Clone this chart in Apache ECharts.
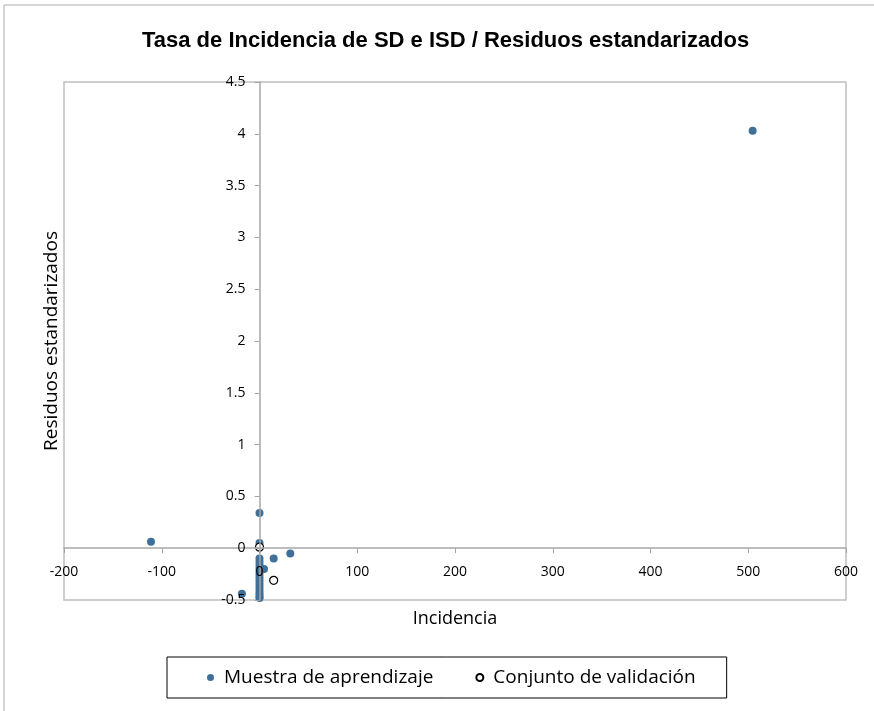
<!DOCTYPE html>
<html>
<head>
<meta charset="utf-8">
<script src="https://cdn.jsdelivr.net/npm/echarts@6/dist/echarts.min.js"></script>
<style>html,body{margin:0;padding:0;background:#fff;}#c{width:874px;height:711px;}</style>
</head>
<body>
<div id="c"></div>
<script>
var title = 'Tasa de Incidencia de SD e ISD / Residuos estandarizados';
var xName = 'Incidencia';
var yName = 'Residuos estandarizados';
var seriesNames = ['Muestra de aprendizaje', 'Conjunto de validación'];

var trainX = [504.5, -111, -18, 0, 0, 0, 14.5, 31.5, 4.6, 0, 0, 0, 0, 0, 0, 0, 0, 0, 0, 0, 0, 0, 0, 0];
var trainY = [4.03, 0.063, -0.44, 0.34, 0.05, 0.02, -0.10, -0.05, -0.20, -0.10, -0.13, -0.16, -0.19, -0.22, -0.25, -0.28, -0.31, -0.34, -0.37, -0.40, -0.43, -0.45, -0.47, -0.48];
var validX = [0, 14.5];
var validY = [0.01, -0.31];

function pairs(xs, ys) { return xs.map(function (x, i) { return [x, ys[i]]; }); }

var W = 874, H = 711;
var G = { left: 64, right: 28, top: 82, bottom: 111 };
var xMin = -200, xMax = 600, yMin = -0.5, yMax = 4.5;
var gw = W - G.left - G.right, gh = H - G.top - G.bottom;
// pixel distance from grid edges to the zero lines (so axes sit on zero like the reference)
var yAxisOffset = -gw * (0 - xMin) / (xMax - xMin);
var xAxisOffset = -gh * (0 - yMin) / (yMax - yMin);

var chart = echarts.init(document.getElementById('c'));
var font = 'Open Sans';
chart.setOption({
  animation: false,
  title: {
    text: title, left: 137, top: 25,
    textStyle: { fontFamily: 'Liberation Sans', fontWeight: 'bold', fontSize: 22, color: '#000' }
  },
  grid: { left: G.left, right: G.right, top: G.top, bottom: G.bottom, outerBoundsMode: 'none', containLabel: false,
          show: true, borderColor: '#bfbfbf', borderWidth: 1.5 },
  xAxis: {
    type: 'value', min: xMin, max: xMax, interval: 100,
    position: 'bottom', offset: xAxisOffset, z: 3,
    name: xName, nameLocation: 'middle', nameGap: 62,
    nameTextStyle: { fontFamily: font, fontSize: 18, color: '#000' },
    axisLine: { onZero: false, lineStyle: { color: '#a6a6a6', width: 1.5 } },
    axisTick: { show: true, length: 5, lineStyle: { color: '#a6a6a6' } },
    axisLabel: { fontFamily: font, fontSize: 14, color: '#000', margin: 17 },
    splitLine: { show: false }
  },
  yAxis: {
    type: 'value', min: yMin, max: yMax, interval: 0.5,
    position: 'left', offset: yAxisOffset, z: 3,
    name: yName, nameLocation: 'middle', nameGap: 198, nameRotate: 90,
    nameTextStyle: { fontFamily: font, fontSize: 19, color: '#000' },
    axisLine: { onZero: false, lineStyle: { color: '#a6a6a6', width: 1.5 } },
    axisTick: { show: true, length: 5, lineStyle: { color: '#a6a6a6' } },
    axisLabel: { fontFamily: font, fontSize: 14, color: '#000', margin: 14 },
    splitLine: { show: false }
  },
  legend: {
    left: 167, top: 657, orient: 'horizontal',
    padding: [11, 31, 11, 40], itemGap: 42,
    borderColor: '#000', borderWidth: 1,
    itemWidth: 7, itemHeight: 7,
    textStyle: { fontFamily: font, fontSize: 19, color: '#000', padding: [0, 0, 0, 5] },
    data: [
      { name: seriesNames[0], icon: 'circle' },
      { name: seriesNames[1], icon: 'circle' }
    ]
  },
  graphic: [
    { type: 'line', shape: { x1: 4, y1: 5, x2: 874, y2: 5 }, style: { stroke: '#c8c8c8', lineWidth: 1.5 } },
    { type: 'line', shape: { x1: 4, y1: 5, x2: 4, y2: 711 }, style: { stroke: '#c8c8c8', lineWidth: 1.5 } }
  ],
  series: [
    {
      name: seriesNames[0], type: 'scatter', symbol: 'circle', symbolSize: 8,
      itemStyle: { color: '#3f7099', opacity: 1 },
      data: pairs(trainX, trainY), z: 2
    },
    {
      name: seriesNames[1], type: 'scatter', symbol: 'circle', symbolSize: 8,
      itemStyle: { color: '#ffffff', borderColor: '#000', borderWidth: 1.2, opacity: 1 },
      data: pairs(validX, validY), z: 2.5
    }
  ]
});
</script>
</body>
</html>
